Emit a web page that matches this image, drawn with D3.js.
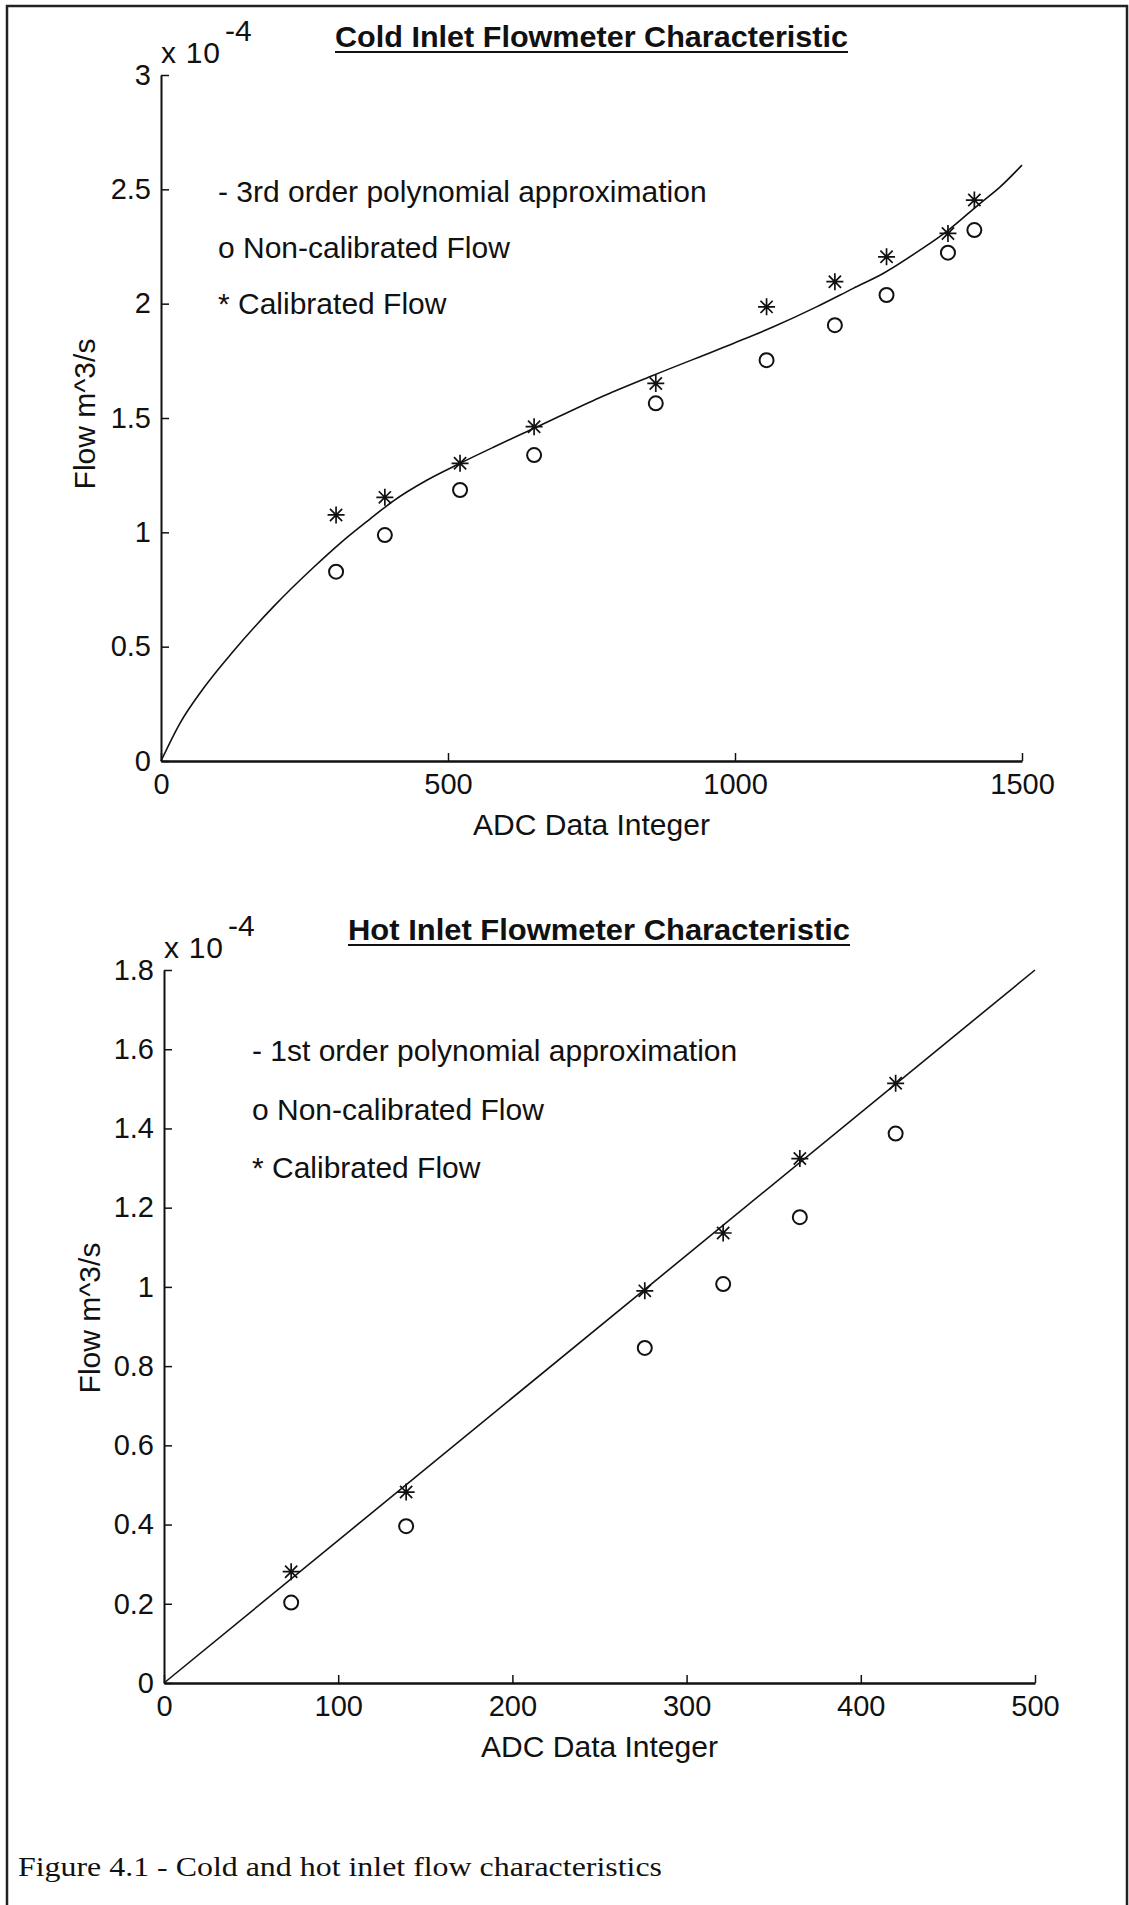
<!doctype html>
<html lang="en">
<head>
<meta charset="utf-8">
<title>Cold and hot inlet flow characteristics</title>
<script src="https://d3js.org/d3.v7.min.js"></script>
<style type="text/css">
  body { margin: 0; background: #fff; }
  svg { display: block; }
  .axis path,
  .axis line {
	fill: none;
	stroke: #111;
  }
  .axis text {
	font-family: "Liberation Sans", Arial, Helvetica, sans-serif;
	font-size: 29px;
	fill: #111;
  }
  .lbl {
	font-family: "Liberation Sans", Arial, Helvetica, sans-serif;
	font-size: 30px;
	fill: #111;
  }
  .caption {
	font-family: "Liberation Serif", "Times New Roman", serif;
	font-size: 27px;
	fill: #111;
  }
</style>
</head>
<body>
<script type="text/javascript">

// flow values are in units of 1e-4 m^3/s (the "x 10^-4" on the axis)

// cold inlet
var coldAdc = [305, 390, 521, 650, 862, 1055, 1174, 1264, 1371, 1417];
var coldCalibrated = [1.076, 1.153, 1.302, 1.462, 1.651, 1.986, 2.096, 2.205, 2.307, 2.453];
var coldNonCalibrated = [0.828, 0.988, 1.185, 1.338, 1.564, 1.753, 1.906, 2.038, 2.223, 2.322];
// 3rd order fit
var coldFitAdc = [0, 33, 74, 126, 196, 265, 312, 364, 405, 463, 521, 579, 637, 655, 765, 858, 997, 1067, 1142, 1206, 1258, 1322, 1372, 1427, 1462, 1500];
var coldFitFlow = [0, 0.165, 0.318, 0.480, 0.675, 0.845, 0.952, 1.058, 1.138, 1.228, 1.302, 1.372, 1.440, 1.461, 1.590, 1.687, 1.826, 1.899, 1.986, 2.067, 2.132, 2.234, 2.322, 2.439, 2.511, 2.606];
var coldXTicks = [0, 500, 1000, 1500];
var coldYTicks = [0, 0.5, 1, 1.5, 2, 2.5, 3];
var coldLegend = ["- 3rd order polynomial approximation", "o Non-calibrated Flow", "* Calibrated Flow"];

// hot inlet
var hotAdc = [73, 139, 276, 321, 365, 420];
var hotCalibrated = [0.281, 0.482, 0.990, 1.136, 1.324, 1.514];
var hotNonCalibrated = [0.203, 0.396, 0.846, 1.007, 1.176, 1.387];
// 1st order fit, end points of the drawn line
var hotFitAdc = [0, 500];
var hotFitFlow = [0, 1.8];
var hotXTicks = [0, 100, 200, 300, 400, 500];
var hotYTicks = [0, 0.2, 0.4, 0.6, 0.8, 1, 1.2, 1.4, 1.6, 1.8];
var hotLegend = ["- 1st order polynomial approximation", "o Non-calibrated Flow", "* Calibrated Flow"];

var svg = d3.select("body").append("svg")
	.attr("width", 1129)
	.attr("height", 1905);

svg.append("rect").attr("width", 1129).attr("height", 1905).attr("fill", "#fff");

// page frame (scanned figure box, no bottom edge visible)
svg.append("path")
	.attr("d", "M7,1905V6H1127V1905")
	.attr("fill", "none")
	.attr("stroke", "#222")
	.attr("stroke-width", 2.5);

function zip(xs, ys) {
	return xs.map(function(x, i) { return {x: x, y: ys[i]}; });
}

function drawChart(c) {
	var x = d3.scaleLinear().domain(c.xDomain).range([c.left, c.right]);
	var y = d3.scaleLinear().domain(c.yDomain).range([c.bottom, c.top]);

	// x axis, ticks pointing inward like MATLAB
	var gx = svg.append("g")
		.attr("class", "axis")
		.attr("transform", "translate(0," + c.bottom + ")")
		.call(d3.axisBottom(x).tickValues(c.xTicks).tickSizeInner(-8).tickSizeOuter(0)
			.tickPadding(12).tickFormat(function(d) { return d; }));
	gx.select(".domain").attr("stroke-width", 2.6);
	gx.selectAll(".tick line").attr("stroke-width", 1.5);

	var gy = svg.append("g")
		.attr("class", "axis")
		.attr("transform", "translate(" + c.left + ",0)")
		.call(d3.axisLeft(y).tickValues(c.yTicks).tickSizeInner(-8).tickSizeOuter(0)
			.tickPadding(10).tickFormat(function(d) { return d; }));
	gy.select(".domain").attr("stroke-width", 2);
	gy.selectAll(".tick line").attr("stroke-width", 1.5);

	// fitted curve
	svg.append("path")
		.datum(zip(c.fitX, c.fitY))
		.attr("fill", "none")
		.attr("stroke", "#111")
		.attr("stroke-width", 1.6)
		.attr("d", d3.line()
			.curve(d3.curveMonotoneX)
			.x(function(d) { return x(d.x); })
			.y(function(d) { return y(d.y); }));

	// non-calibrated: open circles
	svg.append("g")
		.selectAll("circle")
		.data(zip(c.adc, c.nonCal))
		.enter()
		.append("circle")
		.attr("cx", function(d) { return x(d.x); })
		.attr("cy", function(d) { return y(d.y); })
		.attr("r", 7)
		.attr("fill", "none")
		.attr("stroke", "#111")
		.attr("stroke-width", 2);

	// calibrated: asterisks
	var s = 8.5, t = s * 0.72;
	var star = "M" + (-s) + ",0H" + s + "M0," + (-s) + "V" + s +
		"M" + (-t) + "," + (-t) + "L" + t + "," + t +
		"M" + (-t) + "," + t + "L" + t + "," + (-t);
	svg.append("g")
		.selectAll("path")
		.data(zip(c.adc, c.cal))
		.enter()
		.append("path")
		.attr("transform", function(d) { return "translate(" + x(d.x) + "," + y(d.y) + ")"; })
		.attr("d", star)
		.attr("fill", "none")
		.attr("stroke", "#111")
		.attr("stroke-width", 1.7);

	// title, underlined
	svg.append("text")
		.attr("class", "lbl")
		.attr("x", c.titleX)
		.attr("y", c.titleY)
		.attr("text-anchor", "middle")
		.attr("font-weight", "bold")
		.attr("textLength", c.titleW)
		.attr("lengthAdjust", "spacingAndGlyphs")
		.text(c.title);
	svg.append("line")
		.attr("x1", c.titleX - c.titleW / 2)
		.attr("x2", c.titleX + c.titleW / 2)
		.attr("y1", c.titleY + 5)
		.attr("y2", c.titleY + 5)
		.attr("stroke", "#111")
		.attr("stroke-width", 2);

	// exponent label
	svg.append("text")
		.attr("class", "lbl")
		.attr("x", c.left)
		.attr("y", c.top - 12)
		.attr("font-size", 25)
		.attr("textLength", 59)
		.attr("lengthAdjust", "spacing")
		.text("x 10");
	svg.append("text")
		.attr("class", "lbl")
		.attr("x", c.left + 64)
		.attr("y", c.top - 34)
		.attr("font-size", 15)
		.text("-4");

	// legend text
	svg.append("g")
		.selectAll("text")
		.data(c.legend)
		.enter()
		.append("text")
		.attr("class", "lbl")
		.attr("x", c.legendX)
		.attr("y", function(d, i) { return c.legendY + i * c.legendStep; })
		.text(function(d) { return d; });

	// axis titles
	svg.append("text")
		.attr("class", "lbl")
		.attr("x", (c.left + c.right) / 2)
		.attr("y", c.bottom + 74)
		.attr("text-anchor", "middle")
		.text("ADC Data Integer");

	svg.append("text")
		.attr("class", "lbl")
		.attr("transform", "translate(" + c.yLabelX + "," + c.yLabelY + ") rotate(-90)")
		.attr("text-anchor", "middle")
		.text("Flow m^3/s");
}

drawChart({
	left: 161, right: 1022, top: 75, bottom: 761,
	xDomain: [0, 1500], yDomain: [0, 3],
	xTicks: coldXTicks, yTicks: coldYTicks,
	adc: coldAdc, cal: coldCalibrated, nonCal: coldNonCalibrated,
	fitX: coldFitAdc, fitY: coldFitFlow,
	title: "Cold Inlet Flowmeter Characteristic", titleX: 591.5, titleY: 47, titleW: 513,
	legend: coldLegend, legendX: 218, legendY: 202, legendStep: 56,
	yLabelX: 95, yLabelY: 414
});

drawChart({
	left: 164, right: 1035, top: 970, bottom: 1683,
	xDomain: [0, 500], yDomain: [0, 1.8],
	xTicks: hotXTicks, yTicks: hotYTicks,
	adc: hotAdc, cal: hotCalibrated, nonCal: hotNonCalibrated,
	fitX: hotFitAdc, fitY: hotFitFlow,
	title: "Hot Inlet Flowmeter Characteristic", titleX: 599, titleY: 940, titleW: 502,
	legend: hotLegend, legendX: 252, legendY: 1061, legendStep: 58.5,
	yLabelX: 100, yLabelY: 1318
});

svg.append("text")
	.attr("class", "caption")
	.attr("x", 18)
	.attr("y", 1876)
	.attr("textLength", 644)
	.attr("lengthAdjust", "spacingAndGlyphs")
	.text("Figure 4.1 - Cold and hot inlet flow characteristics");

</script>
</body>
</html>
